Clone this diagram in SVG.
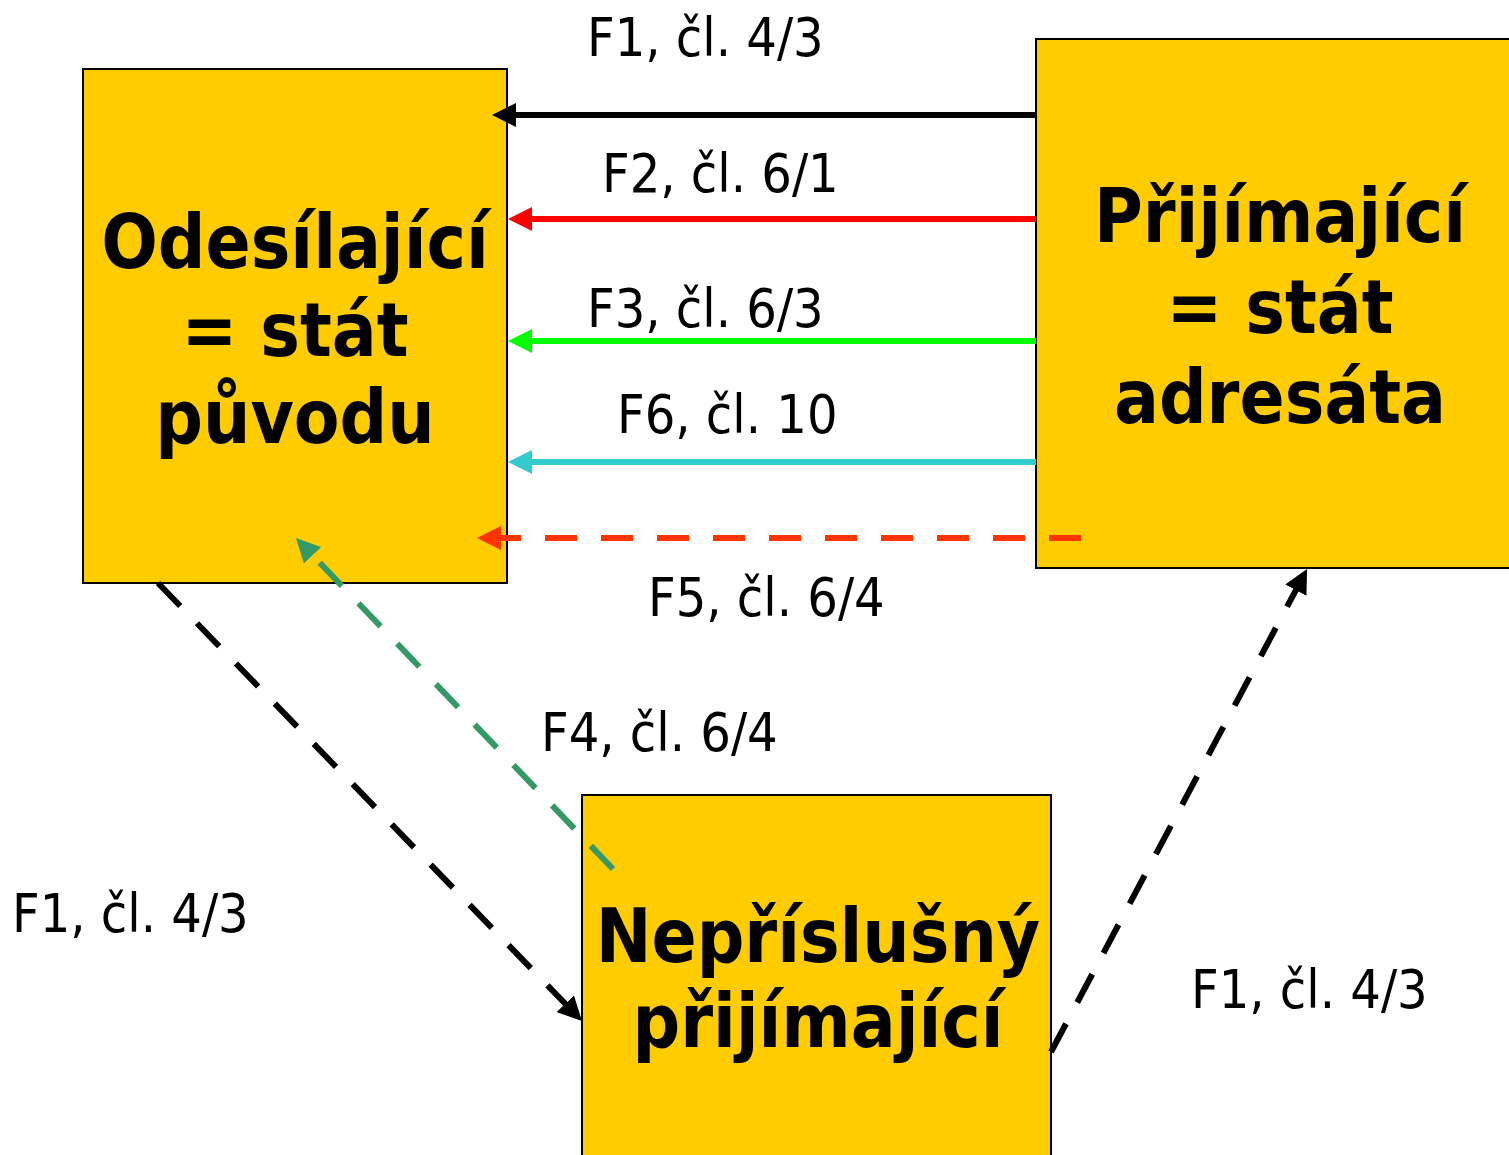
<svg xmlns="http://www.w3.org/2000/svg" width="1509" height="1155" viewBox="0 0 1509 1155">
<style>
.box{fill:#FFCC00;stroke:#000;stroke-width:2}
.nt{font-family:"DejaVu Sans Condensed","DejaVu Sans",sans-serif;font-weight:bold;font-size:74px;text-anchor:middle;fill:#000}
.lb{font-family:"DejaVu Sans Condensed","DejaVu Sans",sans-serif;font-size:53.5px;fill:#000}
.ln{fill:none;stroke-width:6}
.dash{stroke-dasharray:32 24}
</style>
<defs>
<marker id="hBlack" markerUnits="userSpaceOnUse" viewBox="0 0 24 24" markerWidth="24" markerHeight="24" refX="1" refY="12" orient="auto"><path d="M0,0 L24,12 L0,24 z" fill="#000"/></marker>
<marker id="hRed" markerUnits="userSpaceOnUse" viewBox="0 0 24 24" markerWidth="24" markerHeight="24" refX="1" refY="12" orient="auto"><path d="M0,0 L24,12 L0,24 z" fill="#FF0000"/></marker>
<marker id="hGreen" markerUnits="userSpaceOnUse" viewBox="0 0 24 24" markerWidth="24" markerHeight="24" refX="1" refY="12" orient="auto"><path d="M0,0 L24,12 L0,24 z" fill="#00FF00"/></marker>
<marker id="hCyan" markerUnits="userSpaceOnUse" viewBox="0 0 24 24" markerWidth="24" markerHeight="24" refX="1" refY="12" orient="auto"><path d="M0,0 L24,12 L0,24 z" fill="#33CCCC"/></marker>
<marker id="hOrange" markerUnits="userSpaceOnUse" viewBox="0 0 24 24" markerWidth="24" markerHeight="24" refX="1" refY="12" orient="auto"><path d="M0,0 L24,12 L0,24 z" fill="#FF3300"/></marker>
<marker id="hSea" markerUnits="userSpaceOnUse" viewBox="0 0 24 24" markerWidth="24" markerHeight="24" refX="1" refY="12" orient="auto"><path d="M0,0 L24,12 L0,24 z" fill="#339966"/></marker>
</defs>
<rect width="1509" height="1155" fill="#fff"/>
<g id="node-odesilajici">
<rect class="box" x="83" y="69" width="424" height="514"/>
<text class="nt" x="295" y="268">Odesílající</text>
<text class="nt" x="295" y="356">= stát</text>
<text class="nt" x="295" y="443">původu</text>
</g>
<g id="node-prijimajici">
<rect class="box" x="1036" y="39" width="480" height="529"/>
<text class="nt" x="1280" y="242">Přijímající</text>
<text class="nt" x="1280" y="333">= stát</text>
<text class="nt" x="1280" y="423">adresáta</text>
</g>
<g id="node-neprislusny">
<rect class="box" x="582" y="795" width="469" height="370"/>
<text class="nt" x="818" y="962">Nepříslušný</text>
<text class="nt" x="818" y="1047">přijímající</text>
</g>
<g id="connectors">
<line class="ln" x1="1036" y1="115" x2="515" y2="115" stroke="#000" marker-end="url(#hBlack)"/>
<line class="ln" x1="1036" y1="219" x2="531" y2="219" stroke="#FF0000" marker-end="url(#hRed)"/>
<line class="ln" x1="1036" y1="341" x2="531" y2="341" stroke="#00FF00" marker-end="url(#hGreen)"/>
<line class="ln" x1="1036" y1="462" x2="531" y2="462" stroke="#33CCCC" marker-end="url(#hCyan)"/>
<line class="ln dash" x1="1081" y1="538" x2="500" y2="538" stroke="#FF3300" marker-end="url(#hOrange)"/>
<line class="ln dash" x1="613" y1="869" x2="311.9" y2="554.6" stroke="#339966" marker-end="url(#hSea)"/>
<line class="ln dash" x1="158" y1="583" x2="566" y2="1004.5" stroke="#000" marker-end="url(#hBlack)"/>
<line class="ln dash" x1="1051" y1="1052" x2="1296.3" y2="589.3" stroke="#000" marker-end="url(#hBlack)"/>
</g>
<g id="labels">
<text class="lb" x="587" y="56">F1, čl. 4/3</text>
<text class="lb" x="602" y="192" fill="#FF3300">F2, čl. 6/1</text>
<text class="lb" x="587" y="327" fill="#00FF00">F3, čl. 6/3</text>
<text class="lb" x="617" y="433" fill="#00CC99">F6, čl. 10</text>
<text class="lb" x="648" y="616" fill="#FF3300">F5, čl. 6/4</text>
<text class="lb" x="541" y="751" fill="#00CC99">F4, čl. 6/4</text>
<text class="lb" x="12" y="932">F1, čl. 4/3</text>
<text class="lb" x="1191" y="1008">F1, čl. 4/3</text>
</g>
</svg>
